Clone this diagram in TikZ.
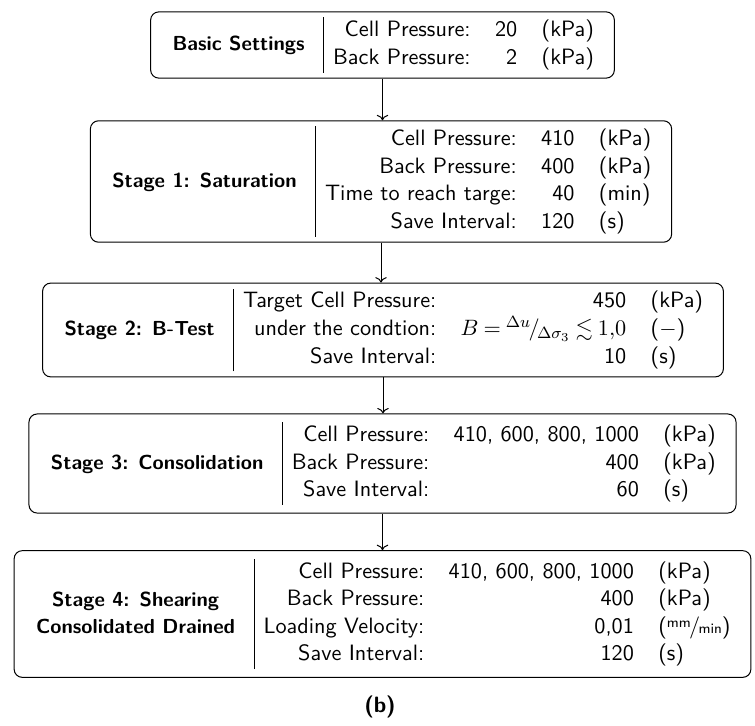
\documentclass[tikz,border=0pt]{standalone}
\usepackage{amssymb}
\usetikzlibrary{arrows.meta}
\newcommand{\unitfrac}[2]{\raisebox{0.55ex}{\scriptsize #1}\kern-0.08em/\kern-0.08em{\scriptsize #2}}
\newcommand{\regsize}{\fontsize{10.95}{13.6}\selectfont}
\newcommand{\titlesize}{\fontsize{10}{13.6}\selectfont}
\newcommand{\stagetab}[2]{%
\begin{tabular}{@{\hspace{6.8pt}}c@{\hspace{9.4pt}}|@{\hspace{4.4pt}}c@{\hspace{6pt}}}
{\titlesize\bfseries #1} & \begin{tabular}{@{}r@{\hspace{12pt}}r@{\hspace{12pt}}l@{}} #2 \end{tabular}
\end{tabular}}
\tikzset{
  stagebox/.style={draw, rounded corners=4pt, line width=0.5pt, inner xsep=4pt, inner ysep=2.7pt, font=\sffamily\regsize},
  flow/.style={->, line width=0.5pt},
}
\begin{document}
\begin{tikzpicture}[x=0.4926pt,y=-0.4926pt]
\useasboundingbox (0,0) rectangle (755,725);
\node[stagebox] (b0) at (382.5,45) {\stagetab{Basic Settings}{Cell Pressure: & 20 & (kPa)\\ Back Pressure: & 2 & (kPa)}};
\node[stagebox] (b1) at (381,181.5) {\stagetab{Stage 1: Saturation}{Cell Pressure: & 410 & (kPa)\\ Back Pressure: & 400 & (kPa)\\ Time to reach targe: & 40 & (min)\\ Save Interval: & 120 & (s)}};
\node[stagebox] (b2) at (383,330) {\stagetab{Stage 2: B-Test}{Target Cell Pressure: & 450 & (kPa)\\ under the condtion: & $\thickmuskip=4mu B = {}^{\Delta u}\kern-0.12em/\kern-0.12em{}_{\Delta\sigma_3} \lesssim 1{,}0$ & ($-$)\\ Save Interval: & 10 & (s)}};
\node[stagebox, inner ysep=4pt] (b3) at (382.5,463.5) {\stagetab{Stage 3: Consolidation}{Cell Pressure: & 410, 600, 800, 1000 & (kPa)\\ Back Pressure: & 400 & (kPa)\\ Save Interval: & 60 & (s)}};
\node[stagebox, inner ysep=4pt] (b4) at (382.5,614) {\stagetab{\begin{tabular}{@{}c@{}}Stage 4: Shearing\\ Consolidated Drained\end{tabular}}{Cell Pressure: & 410, 600, 800, 1000 & (kPa)\\ Back Pressure: & 400 & (kPa)\\ Loading Velocity: & 0,01 & (\unitfrac{mm}{min})\\ Save Interval: & 120 & (s)}};
\node[font=\sffamily\bfseries\regsize] (cap) at (380,707) {(b)};
\draw[flow] (b0.south) -- (b0.south |- b1.north);
\draw[flow] (b1.south) -- (b1.south |- b2.north);
\draw[flow] (b2.south) -- (b2.south |- b3.north);
\draw[flow] (b3.south) -- (b3.south |- b4.north);
\end{tikzpicture}
\end{document}
